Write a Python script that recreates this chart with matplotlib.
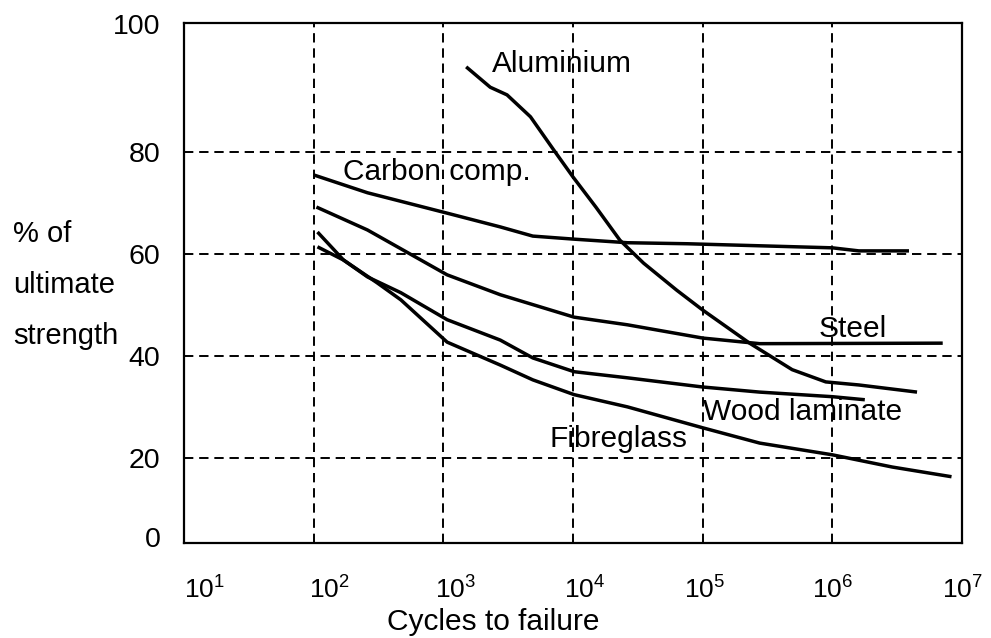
import matplotlib
matplotlib.use("Agg")
import matplotlib.pyplot as plt
import matplotlib.transforms as mtransforms
from matplotlib.ticker import FixedLocator, NullLocator, FixedFormatter

plt.rcParams['font.family'] = ['Liberation Sans', 'DejaVu Sans']
plt.rcParams['mathtext.default'] = 'regular'

# ---- data (cycles to failure, % of ultimate strength) ----
carbon_x = [1.0e2, 2.6e2, 1.07e3, 2.75e3, 4.9e3, 1.02e4, 2.63e4, 7.6e4, 2.75e5, 1.0e6, 1.6e6, 3.9e6]
carbon_y = [75.5, 72.0, 68.0, 65.3, 63.5, 62.9, 62.2, 62.0, 61.6, 61.2, 60.6, 60.6]

steel_x = [1.05e2, 2.6e2, 1.07e3, 2.75e3, 1.02e4, 2.63e4, 1.0e5, 2.75e5, 7.1e6]
steel_y = [69.2, 64.7, 55.9, 52.0, 47.6, 46.1, 43.5, 42.4, 42.5]

alu_x = [1.5e3, 2.3e3, 3.1e3, 4.7e3, 7.1e3, 1.0e4, 1.5e4, 2.3e4, 3.5e4, 6.3e4, 1.0e5,
         2.3e5, 4.9e5, 8.9e5, 1.6e6, 4.5e6]
alu_y = [96.7, 92.7, 91.2, 86.9, 80.4, 75.1, 69.2, 62.7, 58.2, 52.9, 49.0,
         42.5, 37.3, 34.9, 34.3, 32.9]

wood_x = [1.07e2, 1.7e2, 2.6e2, 4.7e2, 1.07e3, 2.75e3, 4.9e3, 1.02e4, 2.63e4, 1.0e5,
          2.75e5, 1.0e6, 1.78e6]
wood_y = [61.4, 58.8, 55.5, 52.4, 47.1, 43.1, 39.6, 36.9, 35.7, 33.9,
          32.9, 32.0, 31.4]

fibre_x = [1.07e2, 1.7e2, 3.1e2, 4.7e2, 1.07e3, 2.75e3, 4.9e3, 1.02e4, 2.63e4, 1.0e5,
           2.75e5, 1.0e6, 2.9e6, 8.3e6]
fibre_y = [64.3, 58.8, 54.3, 51.0, 42.7, 38.2, 35.3, 32.4, 30.0, 25.9,
           22.9, 20.6, 18.2, 16.3]

grid_x = [1e2, 1e3, 1e4, 1e5, 1e6]
grid_y = [20, 40, 60, 80]
xtick_vals = [1e1, 1e2, 1e3, 1e4, 1e5, 1e6, 1e7]
xtick_labels = ['$10^{1}$', '$10^{2}$', '$10^{3}$', '$10^{4}$', '$10^{5}$', '$10^{6}$', '$10^{7}$']
ytick_vals = [4.5, 20, 40, 60, 80, 105.1]
ytick_labels = ['0', '20', '40', '60', '80', '100']

labels = ['Aluminium', 'Carbon comp.', 'Steel', 'Wood laminate', 'Fibreglass']
label_x = [2.38e3, 1.67e2, 7.9e5, 1.0e5, 6.6e3]
label_y = [95.7, 74.5, 43.7, 27.5, 22.2]

# ---- figure ----
fig = plt.figure(figsize=(9.91, 6.38), dpi=100)
ax = fig.add_axes([184/991, 1 - 543/638, (962 - 184)/991, (543 - 23)/638])
ax.set_xscale('log')
ax.set_xlim(1e1, 1e7)
ax.set_ylim(3.3, 105.3)

dash = (0, (4.8, 3.0))
for gx in grid_x:
    ax.axvline(gx, color='black', lw=1.4, linestyle=dash, zorder=1)
for gy in grid_y:
    ax.axhline(gy, color='black', lw=1.4, linestyle=dash, zorder=1)

for xs, ys in [(carbon_x, carbon_y), (steel_x, steel_y), (alu_x, alu_y),
               (wood_x, wood_y), (fibre_x, fibre_y)]:
    ax.plot(xs, ys, color='black', lw=2.5, solid_capstyle='butt', zorder=3)

for t, x, y in zip(labels, label_x, label_y):
    ax.text(x, y, t, fontsize=21.5, ha='left', va='baseline', zorder=4)

ax.xaxis.set_major_locator(FixedLocator(xtick_vals))
ax.xaxis.set_major_formatter(FixedFormatter(xtick_labels))
ax.xaxis.set_minor_locator(NullLocator())
ax.set_yticks(ytick_vals)
ax.set_yticklabels(ytick_labels)
ax.tick_params(axis='both', length=0)
ax.tick_params(axis='x', pad=24, labelsize=19)
ax.tick_params(axis='y', pad=17, labelsize=20.5)
x_offsets_px = [20, 16, 12, 12, 2, 0, 0]
for lab, off in zip(ax.get_xticklabels(), x_offsets_px):
    lab.set_transform(lab.get_transform() +
                      mtransforms.ScaledTranslation(off/100, 0, fig.dpi_scale_trans))

for sp in ax.spines.values():
    sp.set_linewidth(1.6)
    sp.set_color('black')

fig.text(493/991, 1 - 622/638, 'Cycles to failure', fontsize=21.5, ha='center', va='center')
fig.text(13/991, 1 - 285/638, '% of\nultimate\nstrength', fontsize=21, ha='left', va='center',
         linespacing=2.05)

fig.savefig('out.png', dpi=100)
